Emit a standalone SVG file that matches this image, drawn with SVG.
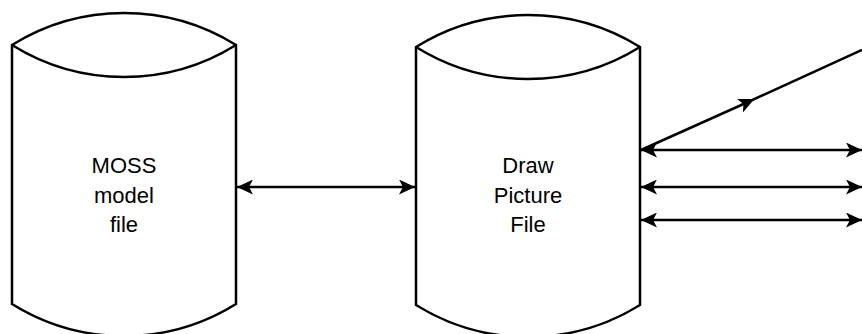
<svg xmlns="http://www.w3.org/2000/svg" width="862" height="334" viewBox="0 0 862 334">
<style>
.cyl{fill:#fff;stroke:#000;stroke-width:2.5;stroke-linejoin:miter}
.rim{fill:none;stroke:#000;stroke-width:2.5}
.con{fill:none;stroke:#000;stroke-width:2.5}
text{font-family:"Liberation Sans",Arial,sans-serif;font-size:22px;fill:#000;text-anchor:middle}
</style>
<defs>
<marker id="ah" markerWidth="17" markerHeight="15" refX="16" refY="7.5" orient="auto-start-reverse" markerUnits="userSpaceOnUse">
<path d="M0,0 L16,7.5 L0,15 L4,7.5 Z" fill="#000"/>
</marker>
<marker id="mid" markerWidth="17" markerHeight="15" refX="9" refY="7.5" orient="auto" markerUnits="userSpaceOnUse">
<path d="M0,0 L16,7.5 L0,15 L4,7.5 Z" fill="#000"/>
</marker>
</defs>
<g id="moss">
<path class="cyl" d="M12,45 A212,212 0 0 1 236,45 L236,304 A212,212 0 0 1 12,304 Z"/>
<path class="rim" d="M12,45 A212,212 0 0 0 236,45"/>
<text x="124" y="173">MOSS</text>
<text x="124" y="203">model</text>
<text x="124" y="232">file</text>
</g>
<g id="draw">
<path class="cyl" d="M416,47 A212,212 0 0 1 640,47 L640,305 A212,212 0 0 1 416,305 Z"/>
<path class="rim" d="M416,47 A212,212 0 0 0 640,47"/>
<text x="528" y="173">Draw</text>
<text x="528" y="203">Picture</text>
<text x="528" y="232">File</text>
</g>
<g id="connectors">
<line class="con" x1="237" y1="187" x2="415" y2="187" marker-start="url(#ah)" marker-end="url(#ah)"/>
<polyline class="con" points="641,150 748,102 862,50" marker-mid="url(#mid)"/>
<line class="con" x1="641" y1="150" x2="862" y2="150" marker-start="url(#ah)" marker-end="url(#ah)"/>
<line class="con" x1="641" y1="187" x2="862" y2="187" marker-start="url(#ah)" marker-end="url(#ah)"/>
<line class="con" x1="641" y1="220" x2="862" y2="220" marker-start="url(#ah)" marker-end="url(#ah)"/>
</g>
</svg>
